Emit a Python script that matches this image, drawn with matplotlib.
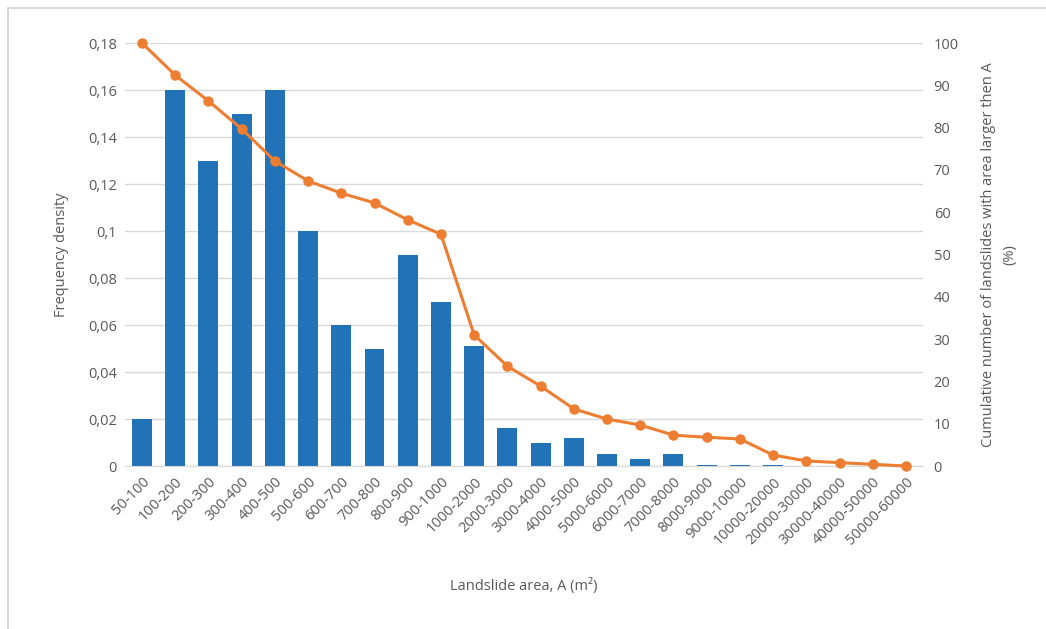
import matplotlib.pyplot as plt
from matplotlib.patches import Rectangle
from matplotlib.ticker import FuncFormatter

categories = ["50-100", "100-200", "200-300", "300-400", "400-500", "500-600",
              "600-700", "700-800", "800-900", "900-1000", "1000-2000", "2000-3000",
              "3000-4000", "4000-5000", "5000-6000", "6000-7000", "7000-8000",
              "8000-9000", "9000-10000", "10000-20000", "20000-30000",
              "30000-40000", "40000-50000", "50000-60000"]
density = [0.02, 0.16, 0.13, 0.15, 0.16, 0.10, 0.06, 0.05, 0.09, 0.07, 0.051,
           0.016, 0.010, 0.012, 0.005, 0.003, 0.005, 0.0006, 0.0006, 0.0003,
           0, 0, 0, 0]
cumulative = [100, 92.4, 86.3, 79.7, 72.1, 67.4, 64.5, 62.2, 58.2, 54.8, 31.0,
              23.6, 18.9, 13.5, 11.1, 9.7, 7.3, 6.8, 6.4, 2.6, 1.2, 0.8, 0.4, 0]

plt.rcParams['font.family'] = ['Open Sans', 'DejaVu Sans']
grey_text = '#595959'

fig = plt.figure(figsize=(10.46, 6.29), dpi=100)
# outer chart frame (top and left edges visible)
fig.patches.append(Rectangle((8 / 1046, -0.1), 1.2, (621 - (-63)) / 629,
                             transform=fig.transFigure, fill=False,
                             edgecolor='#d0d0d0', linewidth=1.2))

ax = fig.add_axes([0.1199, 0.2591, 0.7621, 0.6725])
x = range(len(categories))
ax.bar(x, density, width=0.6, color='#2272B8', zorder=2)
ax.set_ylim(0, 0.18)
ax.set_xlim(-0.5, len(categories) - 0.5)
ax.set_yticks([i * 0.02 for i in range(10)])
ax.yaxis.set_major_formatter(FuncFormatter(
    lambda v, p: ('%g' % round(v, 2)).replace('.', ',')))
ax.grid(axis='y', color='#d9d9d9', linewidth=1, zorder=0)
for s in ['top', 'right', 'left']:
    ax.spines[s].set_visible(False)
ax.spines['bottom'].set_color('#d9d9d9')
ax.set_xticks(list(x))
ax.set_xticklabels(categories, rotation=45, ha='right', rotation_mode='anchor')
ax.tick_params(axis='both', length=0, labelsize=10.5, colors=grey_text, pad=6)
ax.set_ylabel('Frequency density', fontsize=10.5, color=grey_text, labelpad=14)
ax.set_xlabel('Landslide area, A (m²)', fontsize=10.5, color=grey_text, labelpad=22)

ax2 = ax.twinx()
ax2.plot(x, cumulative, color='#ED7D31', linewidth=2.2, marker='o',
         markersize=6.5, zorder=3, clip_on=False)
ax2.set_ylim(0, 100)
ax2.set_yticks(range(0, 101, 10))
for s in ['top', 'right', 'left', 'bottom']:
    ax2.spines[s].set_visible(False)
ax2.tick_params(axis='y', length=0, labelsize=10.5, colors=grey_text, pad=8)
ax2.set_ylabel('Cumulative number of landslides with area larger then A\n(%)',
               fontsize=10.5, color=grey_text, labelpad=16, linespacing=1.6)

fig.savefig('out.png', dpi=100)
